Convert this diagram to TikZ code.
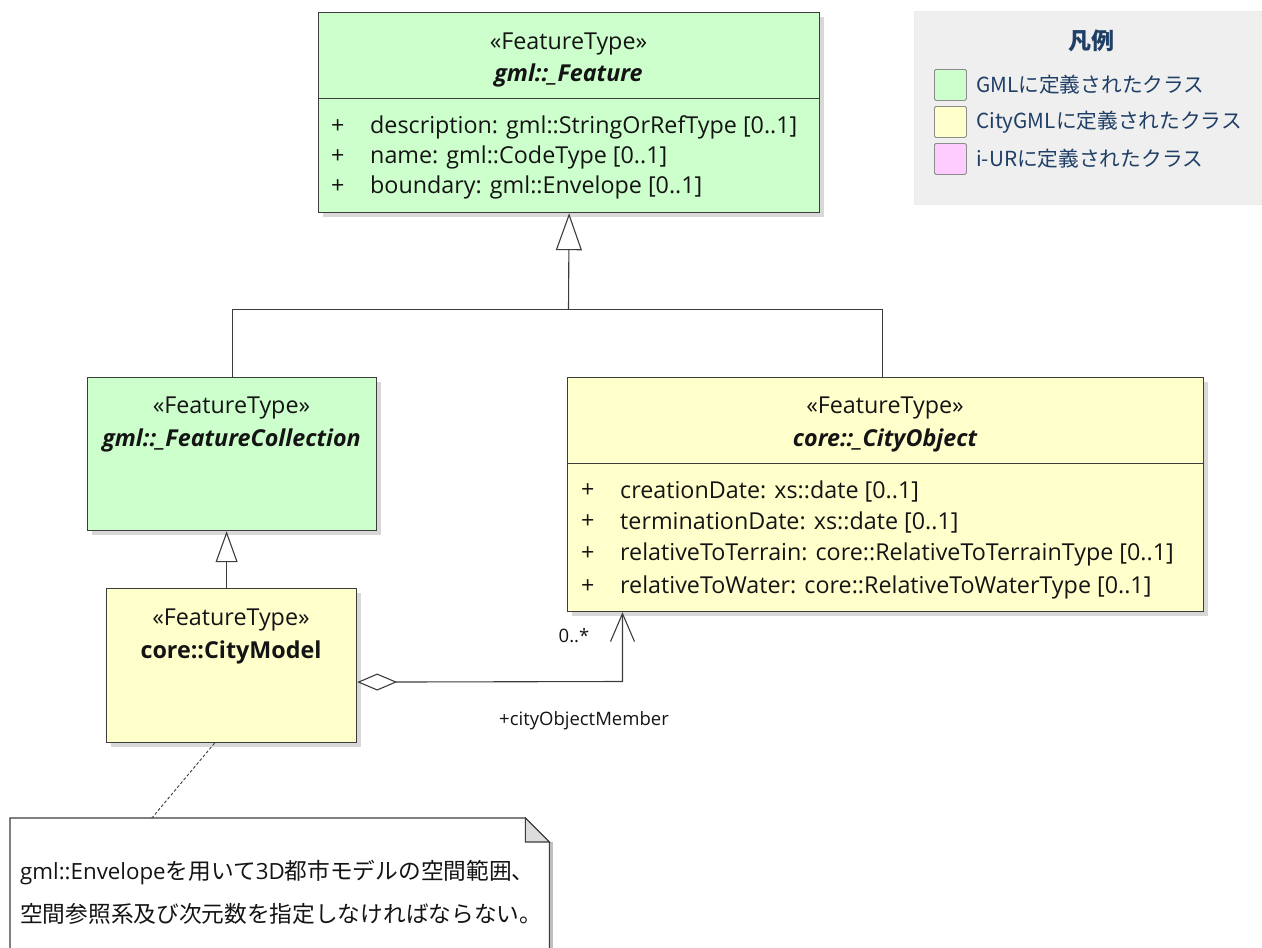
\documentclass[tikz,border=0pt]{standalone}
\usepackage{fontspec}
\setmainfont{Open Sans}
\newfontfamily\cjk{Noto Sans CJK JP}
\usetikzlibrary{arrows.meta,shadows,calc}

\definecolor{gmlgreen}{HTML}{CCFFCC}
\definecolor{citycream}{HTML}{FFFFCC}
\definecolor{iurpink}{HTML}{FFCCFF}
\definecolor{edgegray}{HTML}{3C3C3C}
\definecolor{legendbg}{HTML}{EFEFEF}
\definecolor{legendtext}{HTML}{1F3F66}
\definecolor{foldgray}{HTML}{DCDCDC}

\newcommand{\latinpart}[1]{{\rmfamily\fontsize{22.3}{27}\selectfont #1}}

\begin{document}
\begin{tikzpicture}[x=1pt,y=-1pt,
  classbox/.style={draw=edgegray, line width=1.2pt, rectangle, inner sep=0pt,
    anchor=north west,
    drop shadow={shadow xshift=4pt, shadow yshift=-4pt, opacity=0.22, fill=black!70}},
  boxtext/.style={inner sep=0pt, font=\fontsize{23.3}{27}\selectfont, text=black!92},
  attr/.style={boxtext, anchor=west},
  clsname/.style={boxtext, font=\fontsize{23.3}{27}\selectfont\bfseries\itshape},
  edge/.style={draw=edgegray, line width=1.1pt},
  small/.style={inner sep=0pt, font=\fontsize{18.5}{22}\selectfont, text=black!92},
  legtext/.style={inner sep=0pt, anchor=west, text=legendtext,
    font=\cjk\fontsize{20.7}{24}\selectfont},
  swatch/.style={draw=black!45, line width=0.8pt, rounded corners=1.5pt,
    minimum width=32pt, minimum height=31pt, inner sep=0pt, anchor=north west},
  notetext/.style={inner sep=0pt, anchor=west, text=black!92,
    font=\cjk\fontsize{22.7}{27}\selectfont}
]
\useasboundingbox (0,0) rectangle (1262,948);

% ---------- gml::_Feature ----------
\node[classbox, fill=gmlgreen, minimum width=501pt, minimum height=200pt] (feat) at (318,12) {};
\draw[edgegray, line width=1pt] ($(feat.north west)+(0,86)$) -- ($(feat.north east)+(0,86)$);
\node[boxtext] (featst) at (568.5,44) {«FeatureType»};
\node[clsname] (featnm) at (568.5,75) {gml::\_Feature};
\node[attr] (fa1p) at (331,127) {+};
\node[attr] (fa1) at (370,127) {description: gml::StringOrRefType [0..1]};
\node[attr] (fa2p) at (331,157) {+};
\node[attr] (fa2) at (370,157) {name: gml::CodeType [0..1]};
\node[attr] (fa3p) at (331,187) {+};
\node[attr] (fa3) at (370,187) {boundary: gml::Envelope [0..1]};

% ---------- gml::_FeatureCollection ----------
\node[classbox, fill=gmlgreen, minimum width=289pt, minimum height=153pt] (fc) at (87,377) {};
\node[boxtext] (fcst) at (231.5,408) {«FeatureType»};
\node[clsname] (fcnm) at (231.5,440) {gml::\_FeatureCollection};

% ---------- core::_CityObject ----------
\node[classbox, fill=citycream, minimum width=636pt, minimum height=234pt] (co) at (567,377) {};
\draw[edgegray, line width=1pt] ($(co.north west)+(0,86)$) -- ($(co.north east)+(0,86)$);
\node[boxtext] (cost) at (885,408) {«FeatureType»};
\node[clsname] (conm) at (885,440) {core::\_CityObject};
\node[attr] (ca1p) at (581,491) {+};
\node[attr] (ca1) at (620,491) {creationDate: xs::date [0..1]};
\node[attr] (ca2p) at (581,522) {+};
\node[attr] (ca2) at (620,522) {terminationDate: xs::date [0..1]};
\node[attr] (ca3p) at (581,554) {+};
\node[attr] (ca3) at (620,554) {relativeToTerrain: core::RelativeToTerrainType [0..1]};
\node[attr] (ca4p) at (581,587) {+};
\node[attr] (ca4) at (620,587) {relativeToWater: core::RelativeToWaterType [0..1]};

% ---------- core::CityModel ----------
\node[classbox, fill=citycream, minimum width=250pt, minimum height=154pt] (cm) at (106,588) {};
\node[boxtext] (cmst) at (231,620) {«FeatureType»};
\node[boxtext, font=\fontsize{23.3}{27}\selectfont\bfseries] (cmnm) at (231,652) {core::CityModel};

% ---------- generalizations ----------
\coordinate (jt) at (568.5,309.5);
\draw[edge, -{Triangle[open, length=37pt, width=26pt, fill=white]}] (jt) -- (feat.south);
\draw[edge] (fc.north) |- (jt) -| ($(co.north)+(-3,0)$);
\draw[edge, -{Triangle[open, length=31pt, width=22pt, fill=white]}]
  ($(cm.north)+(-5,0)$) -- ($(fc.south)+(-5.5,0)$);

% ---------- aggregation cityObjectMember ----------
\coordinate (bend) at (622.5,681.5);
\draw[edge, {Diamond[open, length=40pt, width=17pt, fill=white]}-{Straight Barb[length=28pt, width=24pt]}]
  ($(cm.east)+(0,16.5)$) -- (bend) -- (bend |- co.south);
\node[small] (mult) at (574,636) {0..*};
\node[small] (role) at (584,721) {+cityObjectMember};

% ---------- note ----------
\node[inner sep=0pt, minimum width=539pt, minimum height=130pt, anchor=north west] (note) at (10,818) {};
\fill[black!25] ($(note.north east)+(0,24)$) rectangle ($(note.south east)+(4,0)$);
\filldraw[fill=white, draw=edgegray, line width=1.1pt]
  (note.south west) -- (note.north west) -- ($(note.north east)+(-24,0)$)
  -- ($(note.north east)+(0,24)$) -- (note.south east);
\filldraw[fill=foldgray, draw=edgegray, line width=1.1pt]
  ($(note.north east)+(-24,0)$) -- ($(note.north east)+(-24,24)$) -- ($(note.north east)+(0,24)$) -- cycle;
\node[notetext] (nl1) at (20,872) {\latinpart{gml::Envelope}を用いて\latinpart{3D}都市モデルの空間範囲、};
\node[notetext] (nl2) at (20,914) {空間参照系及び次元数を指定しなければならない。};
\draw[edgegray, line width=0.9pt, dash pattern=on 3pt off 2pt]
  ($(cm.south west)!0.432!(cm.south east)$) -- ($(note.north west)!0.263!(note.north east)$);

% ---------- legend ----------
\node[fill=legendbg, draw=black!8, line width=0.8pt, anchor=north west,
  minimum width=348pt, minimum height=193pt, inner sep=0pt] (legend) at (914,11) {};
\node[inner sep=0pt, text=legendtext, font=\cjk\fontsize{23}{27}\selectfont\bfseries] (legtitle) at (1091,41) {凡例};
\node[swatch, fill=gmlgreen] (sw1) at (934,69) {};
\node[swatch, fill=citycream] (sw2) at (934,106) {};
\node[swatch, fill=iurpink] (sw3) at (934,143) {};
\node[legtext] (lt1) at (976,85) {GMLに定義されたクラス};
\node[legtext] (lt2) at (976,122) {CityGMLに定義されたクラス};
\node[legtext] (lt3) at (976,159) {i-URに定義されたクラス};
\end{tikzpicture}
\end{document}
